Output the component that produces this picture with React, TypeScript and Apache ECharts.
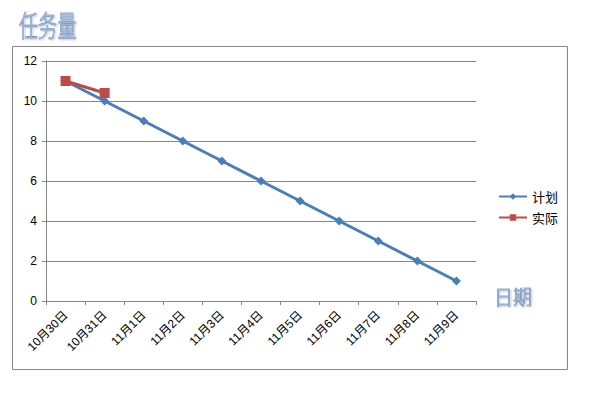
import React, { useEffect, useRef } from "react";
import * as echarts from "echarts";

const categories = ["10月30日", "10月31日", "11月1日", "11月2日", "11月3日", "11月4日", "11月5日", "11月6日", "11月7日", "11月8日", "11月9日"];
const planValues = [11, 10, 9, 8, 7, 6, 5, 4, 3, 2, 1];
const actualValues = [11, 10.4];
const yTicks = { min: 0, max: 12, interval: 2 };

export default function App() {
  const ref = useRef<HTMLDivElement>(null);
  useEffect(() => {
    if (!ref.current) return;
    const chart = echarts.init(ref.current, null, { renderer: "svg" });
    const font = "'Liberation Sans', 'Noto Sans CJK SC', sans-serif";
    const wordArt = {
      fontFamily: "'Noto Sans CJK SC', sans-serif",
      fontWeight: 300,
      fill: "#9CB5D8",
      stroke: "#4F73A3",
      lineWidth: 0.6,
      textShadowColor: "rgba(120,140,170,0.6)",
      textShadowBlur: 2,
      textShadowOffsetX: 1,
      textShadowOffsetY: 1,
    };
    chart.setOption({
      animation: false,
      backgroundColor: "#ffffff",
      textStyle: { fontFamily: font },
      grid: { left: 46, right: 115, top: 61, bottom: 93, containLabel: false },
      xAxis: {
        type: "category",
        data: categories,
        boundaryGap: true,
        axisLine: { lineStyle: { color: "#868686", width: 1 } },
        axisTick: { show: true, alignWithLabel: false, length: 4, lineStyle: { color: "#868686" } },
        axisLabel: { rotate: 45, color: "#000", fontSize: 12, margin: 12, interval: 0, fontFamily: font },
        splitLine: { show: false },
      },
      yAxis: {
        type: "value",
        min: yTicks.min,
        max: yTicks.max,
        interval: yTicks.interval,
        axisLine: { show: true, lineStyle: { color: "#868686", width: 1 } },
        axisTick: { show: true, length: 4, lineStyle: { color: "#868686" } },
        axisLabel: { color: "#000", fontSize: 12, margin: 9, fontFamily: font },
        splitLine: { show: true, lineStyle: { color: "#868686", width: 1 } },
      },
      legend: {
        orient: "vertical",
        left: 493,
        top: 185,
        itemWidth: 28,
        itemHeight: 8,
        itemGap: 8,
        textStyle: { fontSize: 13, color: "#000", fontFamily: "'Noto Sans CJK SC', sans-serif" },
        data: ["计划", "实际"],
      },
      series: [
        {
          name: "计划",
          type: "line",
          data: planValues,
          symbol: "diamond",
          symbolSize: 9,
          lineStyle: { color: "#4A7EBB", width: 3 },
          itemStyle: { color: "#4A7EBB" },
          z: 2,
        },
        {
          name: "实际",
          type: "line",
          data: actualValues,
          symbol: "rect",
          symbolSize: 10,
          lineStyle: { color: "#BE4B48", width: 3 },
          itemStyle: { color: "#BE4B48" },
          z: 3,
        },
      ],
      graphic: [
        {
          type: "rect",
          shape: { x: 12.5, y: 46.5, width: 555, height: 323 },
          style: { fill: "none", stroke: "#868686", lineWidth: 1 },
          z: -1,
          silent: true,
        },
        {
          type: "text",
          x: 19,
          y: 10,
          scaleX: 0.66,
          style: { text: "任务量", fontSize: 29, ...wordArt },
        },
        {
          type: "text",
          x: 494,
          y: 286,
          scaleX: 0.95,
          style: { text: "日期", fontSize: 20, ...wordArt },
        },
      ],
    });
    return () => chart.dispose();
  }, []);
  return <div ref={ref} style={{ width: 591, height: 394, position: "absolute", left: 0, top: 0 }} />;
}
